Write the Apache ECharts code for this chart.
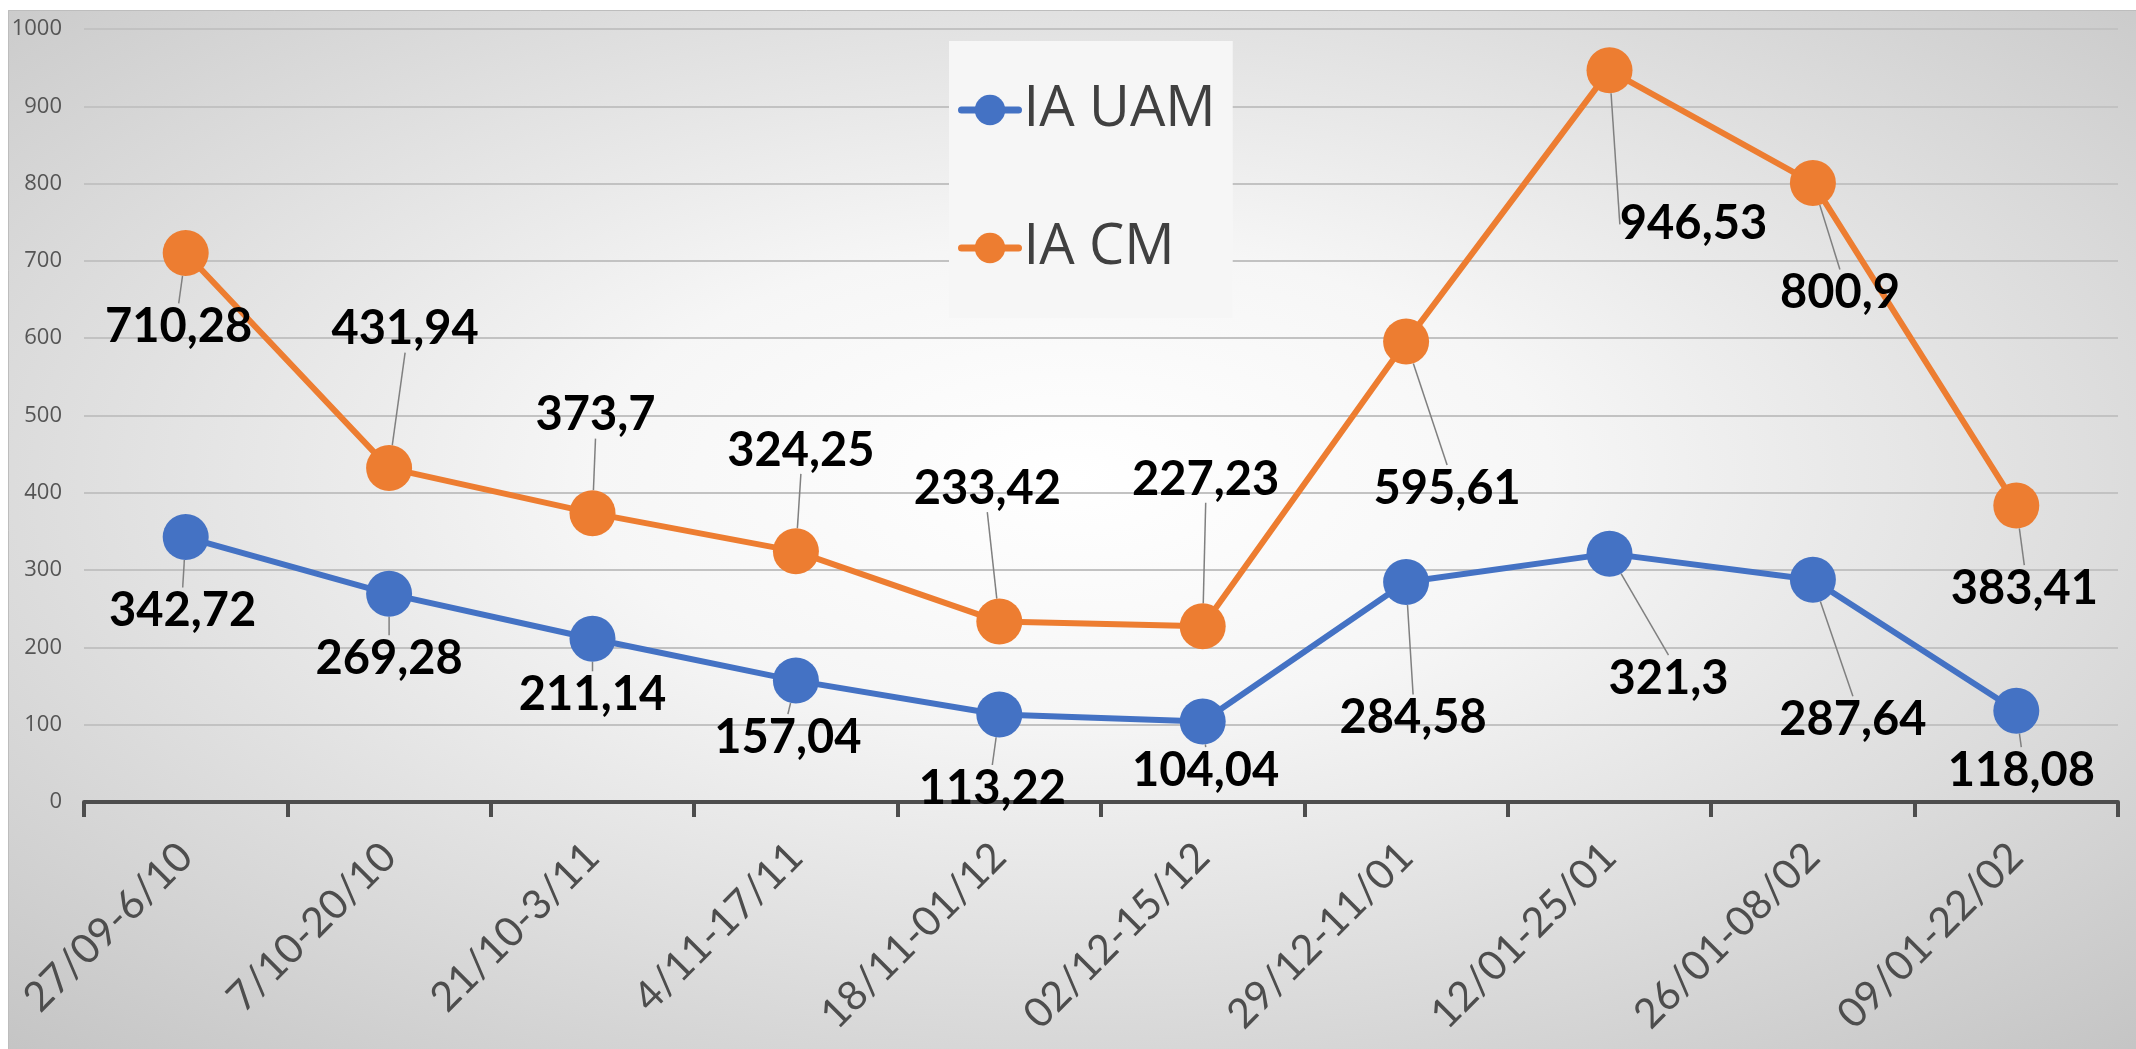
<!DOCTYPE html>
<html>
<head>
<meta charset="utf-8">
<script src="https://cdn.jsdelivr.net/npm/echarts@6/dist/echarts.min.js"></script>
<style>
  html, body { margin: 0; padding: 0; background: #fff; }
  #chart { width: 2136px; height: 1049px; }
</style>
</head>
<body>
<div id="chart"></div>
<script>
// data
const periods = ['27/09-6/10', '7/10-20/10', '21/10-3/11', '4/11-17/11', '18/11-01/12',
  '02/12-15/12', '29/12-11/01', '12/01-25/01', '26/01-08/02', '09/01-22/02']
const iaUam = [342.72, 269.28, 211.14, 157.04, 113.22, 104.04, 284.58, 321.3, 287.64, 118.08]
const iaCm = [710.28, 431.94, 373.7, 324.25, 233.42, 227.23, 595.61, 946.53, 800.9, 383.41]
const yTicks = [0, 100, 200, 300, 400, 500, 600, 700, 800, 900, 1000]

// label shifts (px) from the marker centre, like the dragged excel labels
const uamShift = [[-3, 74], [0, 65], [0, 56], [-8, 57], [-7, 74], [3, 49], [7, 136], [59, 125], [40, 140], [5, 60]]
const cmShift = [[-7, 74], [16, -139], [3, -98], [5, -101], [-12, -133], [3, -147], [41, 147], [84, 154], [27, 110], [8, 83]]

const fmt = v => String(v).replace('.', ',')

const myChart = echarts.init(document.getElementById('chart'))

const labelCfg = {
  show: true,
  position: 'inside',
  formatter: p => fmt(p.value),
  fontFamily: 'Lato',
  fontWeight: 'bold',
  fontSize: 47,
  color: '#000'
}

const option = {
  animation: false,
  graphic: [
    {
      type: 'rect',
      z: -10,
      silent: true,
      x: 8, y: 10,
      scaleX: 2128 / 1039,
      shape: { x: 0, y: 0, width: 1039, height: 1039 },
      style: {
        fill: new echarts.graphic.RadialGradient(0.5, 0.45, 0.75, [
          { offset: 0, color: '#ffffff' },
          { offset: 0.3, color: '#f6f6f6' },
          { offset: 1, color: '#c4c4c4' }
        ])
      }
    },
    {
      type: 'rect',
      z: -9,
      silent: true,
      shape: { x: 8.5, y: 10.5, width: 2140, height: 1050 },
      style: { fill: 'none', stroke: '#bdbdbd', lineWidth: 1 }
    }
  ],
  legend: {
    orient: 'vertical',
    left: 949,
    top: 41,
    padding: [39, 17, 40, 9],
    itemGap: 78,
    itemWidth: 57,
    itemHeight: 38,
    backgroundColor: '#f6f6f6',
    lineStyle: { width: 7, cap: 'round' },
    textStyle: { fontFamily: 'Open Sans', fontSize: 56, color: '#404040', lineHeight: 60 },
    data: ['IA UAM', 'IA CM']
  },
  grid: { left: 84, right: 18, top: 29, bottom: 247, containLabel: false },
  xAxis: {
    type: 'category',
    data: periods,
    boundaryGap: true,
    axisLine: { lineStyle: { color: '#4d4d4d', width: 4 } },
    axisTick: { show: true, length: 15, lineStyle: { color: '#4d4d4d', width: 4 } },
    axisLabel: {
      rotate: 45,
      interval: 0,
      margin: 48,
      fontFamily: 'Lato',
      fontSize: 41,
      color: '#4d4d4d'
    }
  },
  yAxis: {
    type: 'value',
    min: yTicks[0],
    max: yTicks[yTicks.length - 1],
    interval: 100,
    axisLine: { show: false },
    axisTick: { show: false },
    splitLine: { lineStyle: { color: '#c2c2c2', width: 2 } },
    axisLabel: { fontFamily: 'Open Sans', fontSize: 22, color: '#555', margin: 22, formatter: v => String(v) }
  },
  series: [
    {
      name: 'IA UAM',
      type: 'line',
      data: iaUam,
      color: '#4472C4',
      symbol: 'circle',
      symbolSize: 46,
      lineStyle: { width: 6, color: '#4472C4' },
      itemStyle: { color: '#4472C4' },
      label: labelCfg,
      labelLine: { show: true, lineStyle: { color: '#808080', width: 1.5 } },
      labelLayout: p => ({ dx: uamShift[p.dataIndex][0], dy: uamShift[p.dataIndex][1] })
    },
    {
      name: 'IA CM',
      type: 'line',
      data: iaCm,
      color: '#ED7D31',
      symbol: 'circle',
      symbolSize: 46,
      lineStyle: { width: 6, color: '#ED7D31' },
      itemStyle: { color: '#ED7D31' },
      label: labelCfg,
      labelLine: { show: true, lineStyle: { color: '#808080', width: 1.5 } },
      labelLayout: p => ({ dx: cmShift[p.dataIndex][0], dy: cmShift[p.dataIndex][1] })
    }
  ]
}

myChart.setOption(option)
</script>
</body>
</html>
